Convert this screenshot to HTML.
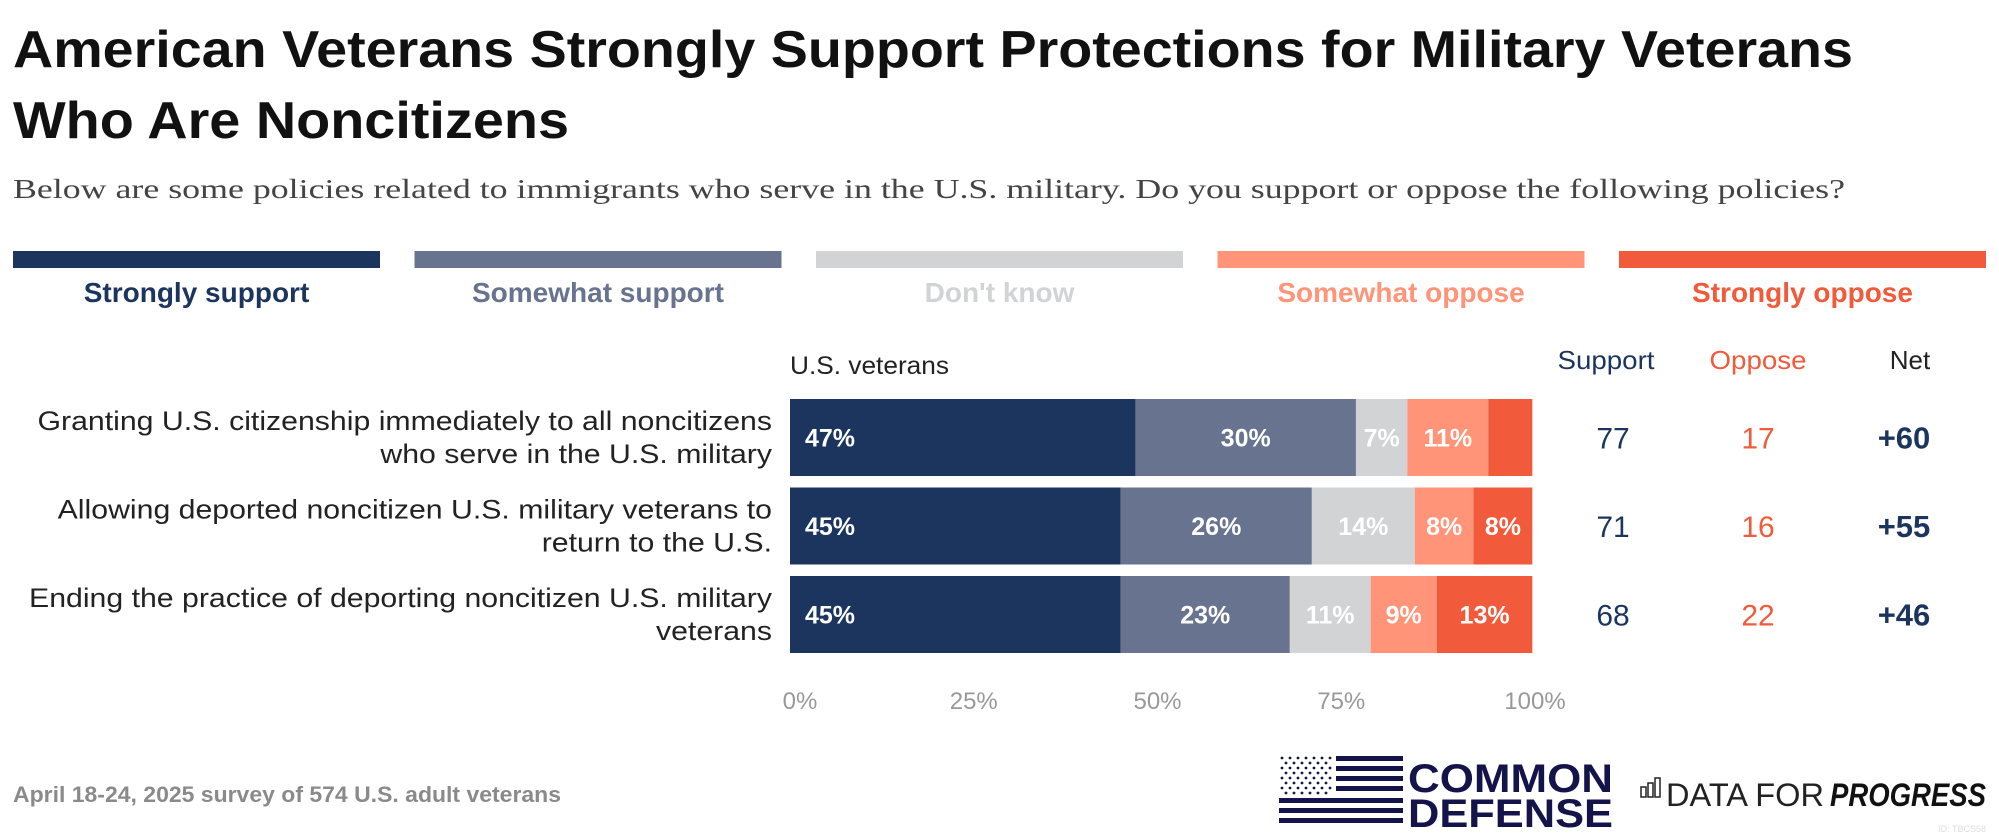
<!DOCTYPE html>
<html><head><meta charset="utf-8"><style>
html,body{margin:0;padding:0;background:#fff;}
svg{display:block;font-family:"Liberation Sans",sans-serif;}
</style></head><body>
<svg id="chart" width="1999" height="840" viewBox="0 0 1999 840" xmlns="http://www.w3.org/2000/svg">
<text x="13" y="67" font-size="52" font-weight="bold" fill="#111" textLength="1840" lengthAdjust="spacingAndGlyphs">American Veterans Strongly Support Protections for Military Veterans</text>
<text x="13" y="138" font-size="52" font-weight="bold" fill="#111" textLength="556" lengthAdjust="spacingAndGlyphs">Who Are Noncitizens</text>
<text x="13" y="198" font-size="27" fill="#444" font-family="Liberation Serif, serif" textLength="1832" lengthAdjust="spacingAndGlyphs">Below are some policies related to immigrants who serve in the U.S. military. Do you support or oppose the following policies?</text>
<g id="legend"></g>
<text x="790" y="374" font-size="25" fill="#222" textLength="159" lengthAdjust="spacingAndGlyphs">U.S. veterans</text>
<text x="1606" y="369" font-size="26" fill="#1c355e" text-anchor="middle" textLength="97" lengthAdjust="spacingAndGlyphs">Support</text>
<text x="1758" y="369" font-size="26" fill="#f15a3a" text-anchor="middle" textLength="97" lengthAdjust="spacingAndGlyphs">Oppose</text>
<text x="1910" y="369" font-size="26" fill="#222" text-anchor="middle">Net</text>
<g id="rows"></g>
<g id="axis"></g>
<text x="13" y="802" font-size="22" font-weight="bold" fill="#8a8a8a" textLength="548" lengthAdjust="spacingAndGlyphs">April 18-24, 2025 survey of 574 U.S. adult veterans</text>
<g>
  <g fill="#14144a">
    <rect x="1336" y="756" width="67" height="5"/><rect x="1336" y="766" width="67" height="5"/><rect x="1336" y="776" width="67" height="5"/><rect x="1336" y="786" width="67" height="5"/>
    <rect x="1279" y="798" width="124" height="5"/><rect x="1279" y="808" width="124" height="5"/><rect x="1279" y="818" width="124" height="5"/>
  </g>
  <g id="stars" fill="#14144a"></g>
  <text x="1408" y="792" font-size="40" font-weight="bold" fill="#14144a" textLength="205" lengthAdjust="spacingAndGlyphs">COMMON</text>
  <text x="1408" y="827" font-size="40" font-weight="bold" fill="#14144a" textLength="205" lengthAdjust="spacingAndGlyphs">DEFENSE</text>
</g>
<g>
  <g fill="none" stroke="#222" stroke-width="1.5">
    <rect x="1641" y="787" width="5" height="10"/><rect x="1648" y="783" width="5" height="14"/><rect x="1655" y="778" width="5" height="19"/>
  </g>
  <text x="1666" y="806" font-size="32" fill="#222" textLength="158" lengthAdjust="spacingAndGlyphs">DATA FOR</text>
  <text x="1830" y="806" font-size="32" font-weight="bold" font-style="italic" fill="#111" textLength="156" lengthAdjust="spacingAndGlyphs">PROGRESS</text>
</g>
<text x="1986" y="832" font-size="9" fill="#ddd" text-anchor="end">ID: TBCS58</text>
</svg>
<script>
const categories = ["Strongly support","Somewhat support","Don't know","Somewhat oppose","Strongly oppose"];
const colors = ["#1c355e","#68738f","#d2d3d5","#ff9478","#f15a3a"];
const labelColors = ["#1c355e","#68738f","#d2d3d5","#ff9478","#f15a3a"];
const questions = [
 ["Granting U.S. citizenship immediately to all noncitizens","who serve in the U.S. military"],
 ["Allowing deported noncitizen U.S. military veterans to","return to the U.S."],
 ["Ending the practice of deporting noncitizen U.S. military","veterans"]
];
const stronglySupport = [47,45,45];
const somewhatSupport = [30,26,23];
const dontKnow = [7,14,11];
const somewhatOppose = [11,8,9];
const stronglyOppose = [6,8,13];
const supportTotals = [77,71,68];
const opposeTotals = [17,16,22];
const netValues = ["+60","+55","+46"];
const ticks = [0,25,50,75,100];

const NS="http://www.w3.org/2000/svg";
function mk(tag,attrs,parent){const e=document.createElementNS(NS,tag);for(const k in attrs)e.setAttribute(k,attrs[k]);parent.appendChild(e);return e;}
const x0=790,x1=1525;
const xScale=v=>x0+(x1-x0)*v/100;
const rowTop=i=>399+i*88.5;
const barH=77;

const legend=document.getElementById('legend');
categories.forEach((c,i)=>{
  const lx=13+i*401.5;
  const r=mk('rect',{x:lx,y:251,width:367,height:17,fill:colors[i]},legend);
  
  
  const t=mk('text',{x:lx+183.5,y:302,'font-size':28,'font-weight':'bold',fill:labelColors[i],'text-anchor':'middle'},legend);
  
  
  t.textContent=c;
});

const rows=document.getElementById('rows');
const series=[stronglySupport,somewhatSupport,dontKnow,somewhatOppose,stronglyOppose];
questions.forEach((q,i)=>{
  const y=rowTop(i);
  q.forEach((line,j)=>{
    const t=mk('text',{x:772,y:y+31+j*33,'font-size':27,fill:'#222','text-anchor':'end'},rows);
    
    
    t.textContent=line;
    const L=t.getComputedTextLength();
    if(L>0){t.setAttribute('textLength',L*1.12);t.setAttribute('lengthAdjust','spacingAndGlyphs');}
  });
  let acc=0;
  series.forEach((s,k)=>{
    const v=s[i];
    const xa=xScale(acc),xb=xScale(acc+v);
    const r=mk('rect',{x:xa,y:y,width:xb-xa,height:barH,fill:colors[k]},rows);
    
    
    if(v>=7){
      const tx=k===0?xa+15:(xa+xb)/2;
      const t=mk('text',{x:tx,y:y+barH/2+9,'font-size':25,'font-weight':'bold',fill:'#fff','text-anchor':k===0?'start':'middle'},rows);
      
      
      t.textContent=v+'%';
    }
    acc+=v;
  });
  const cy=y+barH/2+11;
  const a=mk('text',{x:1613,y:cy,'font-size':30,fill:'#1c355e','text-anchor':'middle'},rows);
  
  
  a.textContent=supportTotals[i];
  const b=mk('text',{x:1758,y:cy,'font-size':30,fill:'#f15a3a','text-anchor':'middle'},rows);
  
  
  b.textContent=opposeTotals[i];
  const n=mk('text',{x:1904,y:cy,'font-size':31,'font-weight':'bold',fill:'#1c355e','text-anchor':'middle'},rows);
  
  
  n.textContent=netValues[i];
});

const axis=document.getElementById('axis');
ticks.forEach((v,i)=>{
  const t=mk('text',{x:xScale(v)+(i===0?10:(i===4?10:0)),y:709,'font-size':24,fill:'#999','text-anchor':'middle'},axis);
  
  
  t.textContent=v+'%';
});

const stars=document.getElementById('stars');
for(let r=0;r<8;r++)for(let c=0;c<(r%2?6:7);c++){
  mk('circle',{cx:1282+c*8+(r%2?4:0),cy:758+r*5,r:1.4},stars);
}
</script>
</body></html>
